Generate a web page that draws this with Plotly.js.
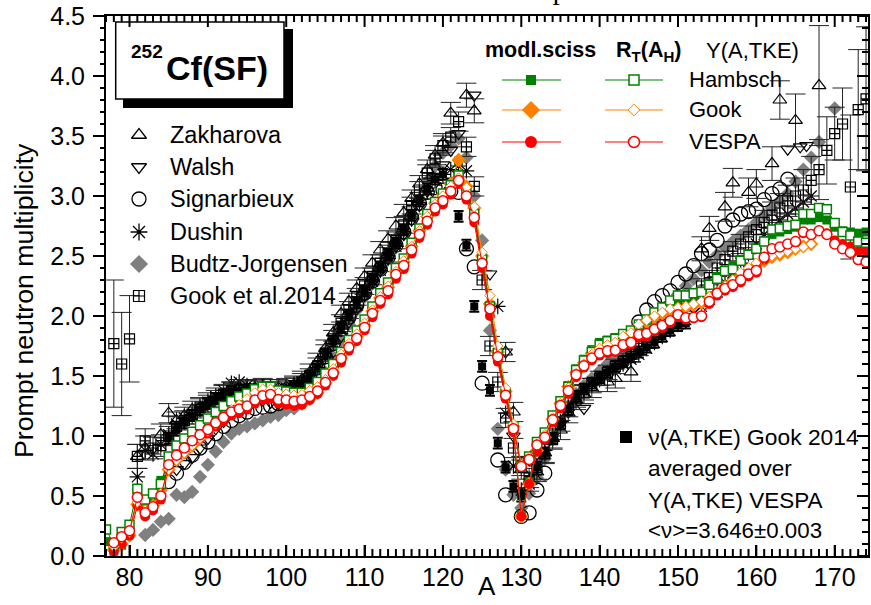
<!DOCTYPE html>
<html><head><meta charset="utf-8">
<script src="https://cdn.plot.ly/plotly-3.0.1.min.js"></script>
<style>html,body{margin:0;padding:0;background:#fff;}#chart{width:871px;height:605px;}</style>
</head><body><div id="chart"></div>
<script>
function seq(a,b){const r=[];for(let i=a;i<=b;i++)r.push(i);return r;}

// ---------- DATA (mass number A, prompt neutron multiplicity) ----------
const A_MODEL = seq(77,174);
// modl.sciss (filled) and R_T(A_H) (open) model curves, Y(A,TKE) from Hambsch / Gook / VESPA
const msHambsch = [0.12,0.04,0.09,0.18,0.45,0.40,0.44,0.63,0.75,0.83,
 0.89,0.95,1.00,1.06,1.12,1.17,1.21,1.24,1.27,1.31,
 1.33,1.34,1.30,1.28,1.27,1.28,1.32,1.37,1.45,1.54,
 1.66,1.76,1.84,1.93,2.05,2.16,2.25,2.38,2.46,2.59,
 2.72,2.84,2.95,3.02,3.10,3.29,3.06,2.86,2.45,2.06,
 1.65,1.33,1.05,0.34,0.62,0.89,1.00,1.15,1.28,1.42,
 1.56,1.64,1.72,1.78,1.80,1.82,1.85,1.88,1.93,1.96,
 2.00,2.04,2.09,2.14,2.15,2.17,2.20,2.27,2.33,2.38,
 2.42,2.47,2.52,2.56,2.62,2.68,2.70,2.72,2.74,2.80,
 2.80,2.82,2.80,2.74,2.71,2.70,2.69,2.70];
const msGook = [null,0.05,0.10,0.17,0.43,0.38,0.42,0.55,0.72,0.80,
 0.86,0.92,0.98,1.04,1.10,1.15,1.20,1.23,1.26,1.30,
 1.32,1.33,1.29,1.27,1.26,1.27,1.31,1.36,1.44,1.53,
 1.65,1.75,1.83,1.92,2.04,2.15,2.24,2.37,2.45,2.58,
 2.71,2.83,2.94,3.01,3.10,3.30,3.08,2.90,2.50,2.10,
 1.70,1.37,1.08,0.33,0.60,0.88,0.99,1.14,1.27,1.41,
 1.53,1.61,1.69,1.74,1.77,1.79,1.83,1.86,1.92,1.95,
 1.99,2.02,2.05,2.06,2.07,2.09,2.11,2.15,2.19,2.24,
 2.29,2.34,2.38,2.42,2.46,2.49,2.51,2.53,2.56,2.58,
 2.60,null,null,null,null,null,null,null];
const msVespa = [null,0.04,0.10,0.17,0.42,0.33,0.38,0.47,0.72,0.81,
 0.87,0.93,0.98,1.02,1.08,1.12,1.17,1.19,1.22,1.27,
 1.30,1.31,1.27,1.26,1.25,1.26,1.30,1.35,1.42,1.50,
 1.61,1.71,1.79,1.88,1.99,2.10,2.18,2.31,2.39,2.52,
 2.65,2.76,2.87,2.93,3.01,3.10,2.97,2.78,2.40,2.00,
 1.62,1.31,1.03,0.33,0.60,0.87,0.97,1.11,1.23,1.35,
 1.49,1.57,1.63,1.67,1.69,1.70,1.74,1.76,1.82,1.83,
 1.87,1.90,1.94,1.99,1.97,1.98,1.99,2.10,2.17,2.21,
 2.24,2.28,2.33,2.36,2.47,2.54,2.56,2.59,2.61,2.69,
 2.68,2.71,2.69,2.63,2.60,2.58,2.54,2.54];
const rtHambsch = [0.22,0.10,0.20,0.26,0.56,0.47,0.52,0.60,0.83,0.92,
 0.98,1.035,1.09,1.145,1.20,1.25,1.29,1.33,1.355,1.39,
 1.41,1.41,1.38,1.37,1.36,1.36,1.40,1.45,1.52,1.60,
 1.70,1.80,1.88,1.97,2.08,2.19,2.28,2.40,2.48,2.61,
 2.73,2.85,2.95,3.02,3.09,3.17,3.04,2.85,2.47,2.08,
 1.69,1.36,1.08,0.75,0.83,0.95,1.03,1.17,1.29,1.41,
 1.55,1.63,1.70,1.76,1.79,1.81,1.85,1.88,1.93,1.97,
 2.03,2.07,2.13,2.17,2.17,2.19,2.20,2.26,2.31,2.375,
 2.39,2.46,2.51,2.56,2.62,2.72,2.73,2.75,2.76,2.85,
 2.85,2.90,2.89,2.775,2.70,2.67,2.62,2.61];
const rtGook = [null,0.08,0.15,0.20,0.45,0.38,0.42,0.52,0.72,0.80,
 0.86,0.92,0.98,1.04,1.10,1.16,1.22,1.26,1.31,1.36,
 1.39,1.39,1.36,1.35,1.34,1.345,1.38,1.41,1.47,1.56,
 1.68,1.77,1.85,1.94,2.05,2.16,2.25,2.37,2.46,2.58,
 2.71,2.83,2.93,3.00,3.08,3.15,3.07,2.91,2.53,2.17,
 1.75,1.40,1.10,0.76,0.82,0.93,1.01,1.15,1.27,1.40,
 1.52,1.60,1.68,1.73,1.76,1.78,1.83,1.86,1.93,1.965,
 2.00,2.03,2.06,2.07,2.08,2.10,2.12,2.16,2.20,2.25,
 2.30,2.36,2.40,2.44,2.48,2.50,2.52,2.54,2.56,2.575,
 2.60,null,null,null,null,null,null,null];
const rtVespa = [null,0.11,0.16,0.21,0.49,0.36,0.41,0.50,0.76,0.84,
 0.90,0.96,1.01,1.055,1.11,1.155,1.20,1.225,1.25,1.30,
 1.335,1.345,1.305,1.30,1.29,1.30,1.33,1.375,1.445,1.525,
 1.645,1.74,1.815,1.905,2.02,2.13,2.21,2.345,2.42,2.55,
 2.68,2.79,2.90,2.96,3.04,3.13,3.00,2.82,2.44,2.06,
 1.66,1.34,1.06,0.745,0.805,0.925,0.99,1.135,1.255,1.377,
 1.51,1.585,1.65,1.69,1.71,1.715,1.76,1.78,1.845,1.855,
 1.89,1.92,1.96,2.01,1.985,1.99,2.00,2.12,2.19,2.23,
 2.26,2.30,2.35,2.38,2.49,2.56,2.575,2.60,2.62,2.70,
 2.68,2.71,2.68,2.60,2.56,2.53,2.47,2.45];

// experiments
const zakA = [81,82,84,85].concat(seq(86,121),[123,124],seq(128,139),[141,142,144,153,154,156,157,159,160,162,163,165,168]);
const zakV = [0.83,0.90,1.01,1.19,
 1.13,1.17,1.22,1.24,1.27,1.31,1.35,1.38,1.40,1.40,
 1.40,1.41,1.40,1.40,1.41,1.43,1.47,1.53,1.62,1.73,
 1.86,2.02,2.12,2.23,2.33,2.44,2.55,2.64,2.75,2.86,
 2.98,3.10,3.22,3.34,3.44,3.69,
 3.84,3.71,
 1.70,1.20,0.72,0.62,0.70,0.86,0.98,1.05,1.19,1.30,1.35,1.40,
 1.45,1.48,1.535,
 2.56,2.73,2.91,3.11,3.03,3.10,3.27,3.80,3.63,3.92];
const zakE = [0.10,0.10,0.09,0.08,
 0.07,0.07,0.07,0.07,0.07,0.07,0.07,0.07,0.07,0.07,
 0.07,0.07,0.07,0.07,0.07,0.07,0.07,0.07,0.07,0.07,
 0.07,0.07,0.07,0.07,0.07,0.07,0.07,0.07,0.07,0.07,
 0.07,0.07,0.08,0.08,0.08,0.09,
 0.10,0.10,
 0.08,0.08,0.08,0.08,0.08,0.08,0.08,0.08,0.08,0.08,0.08,0.08,
 0.08,0.08,0.08,
 0.10,0.10,0.12,0.12,0.12,0.12,0.14,0.16,0.22,0.50];

const walA = seq(86,122).concat([124,126,128,129,130,131,132,133,134,135,136,138,164,165.6,166.4]);
const walV = [0.72,0.77,0.82,0.90,0.98,1.06,1.12,1.20,1.25,1.28,
 1.30,1.30,1.28,1.27,1.28,1.31,1.35,1.41,1.49,1.58,
 1.70,1.83,1.95,2.06,2.17,2.28,2.38,2.48,2.58,2.68,
 2.80,2.92,3.04,3.16,3.26,3.38,3.52,
 3.84,2.35,1.70,1.00,0.80,0.80,0.85,0.92,1.00,1.10,1.20,1.23,
 3.39,3.41,3.42];

const sigA = seq(85,124).concat([125,127,128,130,131,132,133],seq(145,164));
const sigV = [0.62,0.69,0.78,0.84,0.90,0.95,1.02,1.08,1.13,1.17,
 1.20,1.23,1.24,1.25,1.27,1.33,1.38,1.43,1.49,1.57,
 1.66,1.77,1.89,1.99,2.09,2.19,2.29,2.39,2.49,2.59,
 2.70,2.82,2.94,3.03,3.07,3.05,3.04,3.03,2.56,2.41,
 1.44,0.80,0.51,0.33,0.36,0.55,0.69,
 1.95,2.05,2.12,2.17,2.21,2.28,2.35,2.42,2.52,2.55,
 2.63,2.75,2.80,2.85,2.87,2.89,2.97,3.02,3.06,3.14];

const dusA = seq(81,123).concat(seq(127,167));
const dusV = [0.66,0.88,0.85,0.93,1.01,1.10,1.15,1.18,1.22,1.28,
 1.33,1.38,1.44,1.45,1.42,1.40,1.41,1.40,1.39,1.40,
 1.42,1.45,1.50,1.57,1.66,1.77,1.89,1.99,2.09,2.19,
 2.29,2.38,2.48,2.58,2.69,2.81,2.93,3.04,3.13,3.18,
 3.22,3.25,3.21,
 2.08,1.19,0.75,0.55,0.60,
 0.75,0.88,1.00,1.12,1.24,1.32,1.38,1.43,1.47,1.52,
 1.56,1.60,1.64,1.68,1.73,1.78,1.83,1.88,1.93,1.97,
 2.02,2.08,2.14,2.20,2.28,2.36,2.44,2.52,2.60,2.68,
 2.74,2.80,2.85,2.90,2.95,3.00];

const budA = seq(82,168).concat([170]);
const budV = [0.175,0.217,0.286,0.31,0.51,0.49,0.535,0.66,0.76,0.87,
 0.95,1.02,1.06,1.08,1.105,1.13,1.16,1.175,1.215,1.23,
 1.27,1.33,1.42,1.53,1.66,1.80,1.93,2.05,2.16,2.27,
 2.38,2.48,2.59,2.71,2.84,2.97,3.12,3.25,3.36,3.42,
 3.48,3.32,3.00,2.63,1.88,1.06,0.72,0.51,0.40,0.52,
 0.65,0.81,0.97,1.12,1.25,1.35,1.42,1.48,1.54,1.60,
 1.65,1.71,1.77,1.83,1.90,1.97,2.04,2.11,2.18,2.25,
 2.31,2.38,2.45,2.51,2.57,2.62,2.67,2.72,2.78,2.84,
 2.90,2.96,3.02,3.12,3.22,3.32,3.45,
 3.73];

const gkA = seq(78,174);
const gkV = [1.77,1.60,1.81,0.83,0.96,0.90,0.92,
 1.00,1.08,1.13,1.18,1.24,1.28,1.32,1.35,1.37,1.39,
 1.39,1.39,1.38,1.38,1.38,1.39,1.42,1.45,1.49,1.58,
 1.69,1.81,1.94,2.05,2.16,2.25,2.33,2.44,2.52,2.63,
 2.76,2.92,3.05,3.19,3.31,3.42,3.49,3.62,3.41,3.08,
 2.30,1.75,1.45,1.15,0.90,0.75,0.65,0.72,0.85,0.97,
 1.10,1.22,1.30,1.36,1.42,1.48,1.53,1.58,1.63,1.68,
 1.73,1.79,1.85,1.91,1.97,2.03,2.10,2.17,2.25,2.32,
 2.40,2.47,2.54,2.60,2.66,2.72,2.78,2.84,2.90,2.96,
 3.00,3.05,3.13,3.22,3.38,3.52,3.60,3.075,3.72,3.81];
const gkE = [0.53,0.43,0.36,0.10,0.10,0.09,0.09,
 0.08,0.08,0.08,0.08,0.08,0.08,0.08,0.08,0.08,0.08,
 0.07,0.07,0.07,0.07,0.07,0.07,0.07,0.07,0.07,0.07,
 0.07,0.07,0.07,0.07,0.07,0.07,0.07,0.07,0.07,0.07,
 0.07,0.07,0.07,0.07,0.07,0.08,0.08,0.08,0.08,0.08,
 0.08,0.08,0.08,0.08,0.08,0.08,0.08,0.08,0.08,0.08,
 0.06,0.06,0.06,0.06,0.06,0.06,0.06,0.06,0.06,0.06,
 0.06,0.06,0.06,0.06,0.06,0.06,0.06,0.06,0.06,0.06,
 0.07,0.07,0.08,0.08,0.09,0.10,0.10,0.11,0.12,0.13,
 0.15,0.17,0.20,0.25,0.28,0.22,0.30,0.60,0.50,0.60];

const g14A = seq(85,151);
const g14V = [0.98,1.05,1.11,1.17,1.22,1.27,1.31,1.34,1.37,1.38,
 1.38,1.38,1.37,1.36,1.36,1.37,1.40,1.44,1.50,1.58,
 1.68,1.79,1.91,2.01,2.11,2.21,2.31,2.41,2.51,2.61,
 2.72,2.84,2.96,3.06,3.14,3.18,3.10,2.83,2.59,2.08,
 1.58,1.38,0.94,0.74,0.58,0.50,0.62,0.74,0.86,0.98,
 1.10,1.22,1.33,1.39,1.44,1.49,1.53,1.58,1.62,1.66,
 1.70,1.74,1.78,1.83,1.88,1.92,1.94];

const xRange = [77,174.25];
const yRange = [0,4.5];
const xMajorTicks = [80,90,100,110,120,130,140,150,160,170];
const yMajorTicks = [0,0.5,1,1.5,2,2.5,3,3.5,4,4.5];

// ---------- LAYOUT HELPERS ----------
const W=871,H=605,M={l:106,r:3,t:16,b:49};
const PW=W-M.l-M.r, PH=H-M.t-M.b;
const ux=px=>(px-M.l)/PW, uy=py=>(H-M.b-py)/PH;              // paper fractions
const dx=px=>xRange[0]+ux(px)*(xRange[1]-xRange[0]);            // legend-key positions in axis units
const dy=py=>yRange[0]+uy(py)*(yRange[1]-yRange[0]);
const fx=v=>(v-xRange[0])/(xRange[1]-xRange[0]);
const fy=v=>(v-yRange[0])/(yRange[1]-yRange[0]);
const FONT='Liberation Sans, Arial, Helvetica, sans-serif';
const GREEN='#008000', ORANGE='#ff8000', RED='#ff0000', GRAY='#808080';

const traces=[];
function exp(xs,ys,marker,err,errW){
  const t={type:'scatter',mode:'markers',x:xs,y:ys,showlegend:false,hoverinfo:'skip',marker:marker};
  if(err){t.error_y={type:'data',array:err,visible:true,color:'#222',thickness:1,width:errW||10};}
  traces.push(t);
}
exp(budA,budV,{symbol:'diamond',size:11,color:GRAY,line:{width:0}});
exp(sigA,sigV,{symbol:'circle-open',size:14,color:'black',line:{width:1.3,color:'black'}});
exp(walA,walV,{symbol:'triangle-down-open',size:12,color:'black',line:{width:1.2,color:'black'}});
exp(zakA,zakV,{symbol:'triangle-up-open',size:12,color:'black',line:{width:1.2,color:'black'}},zakE,10);
exp(dusA,dusV,{symbol:'asterisk-open',size:13,color:'black',line:{width:1.2,color:'black'}});
exp(gkA,gkV,{symbol:'square-cross-open',size:10,color:'black',line:{width:1.2,color:'black'}},gkE,10);
traces.push({type:'scatter',mode:'markers',x:g14A,y:g14V,showlegend:false,hoverinfo:'skip',
  marker:{symbol:'square',size:8,color:'black'},
  error_y:{type:'constant',value:0.045,color:'black',thickness:2,width:5}});
function model(ys,color,marker){
  traces.push({type:'scatter',mode:'lines+markers',x:A_MODEL,y:ys,showlegend:false,hoverinfo:'skip',
    connectgaps:false,line:{color:color,width:1},marker:marker});
}
model(msHambsch,GREEN,{symbol:'square',size:9,color:GREEN});
model(msGook,ORANGE,{symbol:'diamond',size:11,color:ORANGE});
model(msVespa,RED,{symbol:'circle',size:10,color:RED});
model(rtHambsch,GREEN,{symbol:'square',size:9,color:'white',line:{color:GREEN,width:1.5}});
model(rtGook,ORANGE,{symbol:'diamond',size:8,color:'white',line:{color:ORANGE,width:1}});
model(rtVespa,RED,{symbol:'circle',size:10,color:'white',line:{color:RED,width:1.5}});

// ---------- LEGEND KEYS ----------
function key(px,py,marker){
  traces.push({type:'scatter',mode:'markers',x:[dx(px)],y:[dy(py)],
    showlegend:false,hoverinfo:'skip',marker:marker,cliponaxis:false});
}
function keyLine(x0,x1,py,color){
  traces.push({type:'scatter',mode:'lines',x:[dx(x0),dx(x1)],y:[dy(py),dy(py)],
    showlegend:false,hoverinfo:'skip',line:{color:color,width:1}});
}
const LROW=[135,167,199,232,264,296];
key(139,LROW[0],{symbol:'triangle-up-open',size:13,color:'black',line:{width:1.3,color:'black'}});
key(139,LROW[1],{symbol:'triangle-down-open',size:13,color:'black',line:{width:1.3,color:'black'}});
key(139,LROW[2],{symbol:'circle-open',size:14,color:'black',line:{width:1.3,color:'black'}});
key(139,LROW[3],{symbol:'asterisk-open',size:14,color:'black',line:{width:1.3,color:'black'}});
key(139,LROW[4],{symbol:'diamond',size:14,color:GRAY});
key(139,LROW[5],{symbol:'square-cross-open',size:11,color:'black',line:{width:1.2,color:'black'}});
const RROW=[80,110,142];
keyLine(502,561,RROW[0],GREEN); keyLine(605,663,RROW[0],GREEN);
keyLine(502,561,RROW[1],ORANGE); keyLine(605,663,RROW[1],ORANGE);
keyLine(502,561,RROW[2],RED); keyLine(605,663,RROW[2],RED);
key(531,RROW[0],{symbol:'square',size:10,color:GREEN});
key(531,RROW[1],{symbol:'diamond',size:14,color:ORANGE});
key(531,RROW[2],{symbol:'circle',size:12,color:RED});
key(634,RROW[0],{symbol:'square',size:10,color:'white',line:{color:GREEN,width:1.5}});
key(634,RROW[1],{symbol:'diamond',size:9,color:'white',line:{color:ORANGE,width:1}});
key(634,RROW[2],{symbol:'circle',size:11,color:'white',line:{color:RED,width:1.5}});
key(626,437,{symbol:'square',size:12,color:'black'});

// ---------- ANNOTATIONS ----------
const ann=[];
function txt(text,px,py,size,opts){
  ann.push(Object.assign({text:text,xref:'paper',yref:'paper',x:ux(px),y:uy(py),showarrow:false,
    xanchor:'left',yanchor:'middle',font:{family:FONT,size:size,color:'black'}},opts||{}));
}
const leftNames=['Zakharova','Walsh','Signarbieux','Dushin','Budtz-Jorgensen','Gook et al.2014'];
leftNames.forEach((n,i)=>txt(n,168,LROW[i],23.5));
txt('<b>modl.sciss</b>',540,50,21.5,{xanchor:'center'});
txt('<b>R<sub>T</sub>(A<sub>H</sub>)</b>',648,52,21.5,{xanchor:'center'});
txt('Y(A,TKE)',752,50,22,{xanchor:'center'});
['Hambsch','Gook','VESPA'].forEach((n,i)=>txt(n,687,RROW[i],22));
txt(' ν(A,TKE) Gook 2014',640,437,22.8);
txt('averaged over',646,468,22.5);
txt('Y(A,TKE) VESPA',646,500,22.5);
txt('&lt;ν&gt;=3.646±0.003',646,530,22.3);
txt('<b>252</b>',147,52,19,{xanchor:'center'});
txt('<b>Cf(SF)</b>',164,68,34);
txt('Prompt neutron multiplicity',24,301,26.7,{xanchor:'center',textangle:-90});
txt('A',487,603,26,{xanchor:'center',yanchor:'bottom'});
ann.push({text:'Prompt',xref:'paper',yref:'paper',x:ux(490),y:uy(7),xanchor:'left',yanchor:'bottom',
  showarrow:false,font:{family:'Liberation Serif, Times New Roman, serif',size:28,color:'black'}});

// ---------- FRAME: legend box + tick combs ----------
const shapes=[
 {type:'rect',xref:'paper',yref:'paper',x0:ux(123),x1:ux(293),y0:uy(108),y1:uy(29),fillcolor:'black',line:{width:0}},
 {type:'rect',xref:'paper',yref:'paper',x0:ux(115.7),x1:ux(284),y0:uy(99),y1:uy(22),fillcolor:'white',line:{color:'black',width:1.5}}
];
function tick(x0,x1,y0,y1,w){
  shapes.push({type:'line',xref:'paper',yref:'paper',x0:x0,x1:x1,y0:y0,y1:y1,line:{color:'black',width:w}});
}
seq(77,174).forEach(v=>{
  const major=xMajorTicks.indexOf(v)>=0, f=fx(v);
  tick(f,f,0,(major?11:7)/PH,2);        // bottom, inside
  tick(f,f,1,1-(major?11:6)/PH,2);      // top, inside
});
seq(0,45).forEach(i=>{
  const v=i/10, major=(i%5===0), f=fy(v);
  tick(0,-(major?11:6)/PW,f,f,2);       // left, outside
  tick(1,1-(major?11:6)/PW,f,f,2);      // right, inside
});

const layout={
  width:W,height:H,margin:M,paper_bgcolor:'white',plot_bgcolor:'white',showlegend:false,
  xaxis:{range:xRange,tickmode:'array',tickvals:xMajorTicks,ticks:'inside',ticklen:11,tickwidth:2,tickcolor:'black',
    showline:true,linecolor:'black',linewidth:2,mirror:true,showgrid:false,zeroline:false,ticklabelstandoff:-2,
    tickfont:{family:FONT,size:25,color:'black'}},
  yaxis:{range:yRange,tickmode:'array',tickvals:yMajorTicks,tickformat:'.1f',ticks:'outside',ticklen:11,tickwidth:2,
    tickcolor:'black',showline:true,linecolor:'black',linewidth:2,mirror:true,showgrid:false,zeroline:false,
    ticklabelstandoff:3,tickfont:{family:FONT,size:25,color:'black'}},
  annotations:ann,shapes:shapes
};
Plotly.newPlot('chart',traces,layout,{displayModeBar:false,staticPlot:true});
</script></body></html>
